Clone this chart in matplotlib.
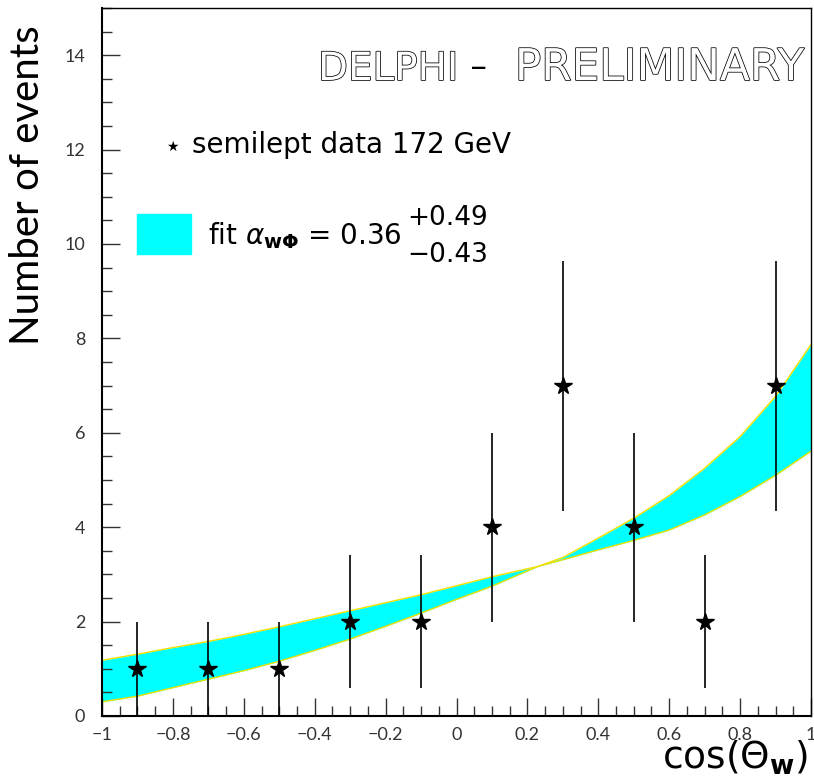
import matplotlib
matplotlib.use("Agg")
import matplotlib.pyplot as plt
import matplotlib.patheffects as pe
from matplotlib.ticker import MultipleLocator
from matplotlib import font_manager
import numpy as np

# data points
cos_x = [-0.9, -0.7, -0.5, -0.3, -0.1, 0.1, 0.3, 0.5, 0.7, 0.9]
n_events = [1, 1, 1, 2, 2, 4, 7, 4, 2, 7]
n_err = [1.0, 1.0, 1.0, 1.41, 1.41, 2.0, 2.65, 2.0, 1.41, 2.65]

# fit band boundary curves
band_x = [-1.0, -0.9, -0.8, -0.7, -0.6, -0.5, -0.4, -0.3, -0.2, -0.1, 0.0, 0.1,
          0.23, 0.3, 0.4, 0.5, 0.6, 0.7, 0.8, 0.9, 1.0]
band_a = [1.18, 1.31, 1.45, 1.58, 1.73, 1.89, 2.06, 2.23, 2.40, 2.57, 2.76, 2.95,
          3.17, 3.31, 3.52, 3.72, 3.94, 4.26, 4.65, 5.10, 5.61]
band_b = [0.30, 0.42, 0.60, 0.78, 0.96, 1.16, 1.39, 1.63, 1.90, 2.18, 2.47, 2.75,
          3.17, 3.36, 3.77, 4.19, 4.67, 5.25, 5.92, 6.77, 7.87]

W, H = 814, 781
fig = plt.figure(figsize=(W / 100, H / 100), dpi=100)
ax = fig.add_axes([102 / W, 1 - 716 / H, (811 - 102) / W, (716 - 8) / H])

ax.fill_between(band_x, band_a, band_b, color="#00ffff", linewidth=0, zorder=1)
ax.plot(band_x, band_a, color="#f0e000", lw=1.0, zorder=2)
ax.plot(band_x, band_b, color="#f0e000", lw=1.0, zorder=2)

ax.errorbar(cos_x, n_events, yerr=n_err, fmt="none", ecolor="black",
            elinewidth=1.2, capsize=0, zorder=3)
ax.plot(cos_x, n_events, linestyle="none", marker="*", markersize=13,
        color="black", zorder=4)

ax.set_xlim(-1, 1)
ax.set_ylim(0, 15)
ax.xaxis.set_minor_locator(MultipleLocator(0.05))
ax.yaxis.set_minor_locator(MultipleLocator(0.5))
ax.set_yticks([0, 2, 4, 6, 8, 10, 12, 14])
ax.set_xticks([-1, -0.8, -0.6, -0.4, -0.2, 0, 0.2, 0.4, 0.6, 0.8, 1])
ax.set_xticklabels(["\u22121", "\u22120.8", "\u22120.6", "\u22120.4", "\u22120.2",
                    "0", "0.2", "0.4", "0.6", "0.8", "1"])
ax.tick_params(which="both", direction="in", top=False, right=False,
               labelsize=13, colors="#333333")
ax.tick_params(which="major", length=13, width=1.0)
ax.tick_params(which="minor", length=7, width=1.0)
ax.tick_params(axis="x", pad=8)
ax.tick_params(axis="y", pad=12)
for lab in ax.get_xticklabels() + ax.get_yticklabels():
    lab.set_family("Lato")
for s in ["left", "bottom"]:
    ax.spines[s].set_linewidth(1.5)
for s in ["top", "right"]:
    ax.spines[s].set_linewidth(1.0)

# axis labels
fig.text(28 / W, 1 - 185 / H, "Number of events", rotation=90, fontsize=29,
         ha="center", va="center", color="black", family="Lato")
fig.text(808 / W, 1 - 758 / H, r"cos($\Theta_{\mathbf{w}}$)", fontsize=27,
         ha="right", va="center", color="black")

# title (outlined letters)
try:
    font_manager.findfont(font_manager.FontProperties(family="Liberation Sans Narrow"),
                          fallback_to_default=False)
    narrow, dsize = "Liberation Sans Narrow", 34
except Exception:
    narrow, dsize = "DejaVu Sans", 28
outline = [pe.Stroke(linewidth=1.1, foreground="black"), pe.Normal()]
fig.text(318 / W, 1 - 80 / H, "DELPHI", fontsize=dsize, color="white",
         ha="left", va="baseline", path_effects=outline, family=narrow)
fig.text(479 / W, 1 - 69 / H, "\u2013", fontsize=24, color="black",
         ha="center", va="center", family="Lato")
fig.text(804 / W, 1 - 80 / H, "PRELIMINARY", fontsize=31.5, color="white",
         ha="right", va="baseline", path_effects=outline, family="DejaVu Sans")

# legend
fig.text(172 / W, 1 - 147 / H, "\u2605", fontsize=10, ha="center", va="center",
         family=["DejaVu Sans"])
fig.text(192 / W, 1 - 145 / H, "semilept data 172 GeV", fontsize=20,
         ha="left", va="center")
fig.patches.append(plt.Rectangle((137 / W, 1 - 254 / H), 54 / W, 40 / H,
                                 transform=fig.transFigure, color="#00ffff"))
fig.text(208 / W, 1 - 236 / H, r"fit $\alpha_{\mathbf{w\Phi}}$ = 0.36", fontsize=20,
         ha="left", va="center")
fig.text(407 / W, 1 - 218 / H, "+0.49", fontsize=19, ha="left", va="center")
fig.text(407 / W, 1 - 255 / H, "\u22120.43", fontsize=19, ha="left", va="center")

fig.savefig("out.png", dpi=100)
